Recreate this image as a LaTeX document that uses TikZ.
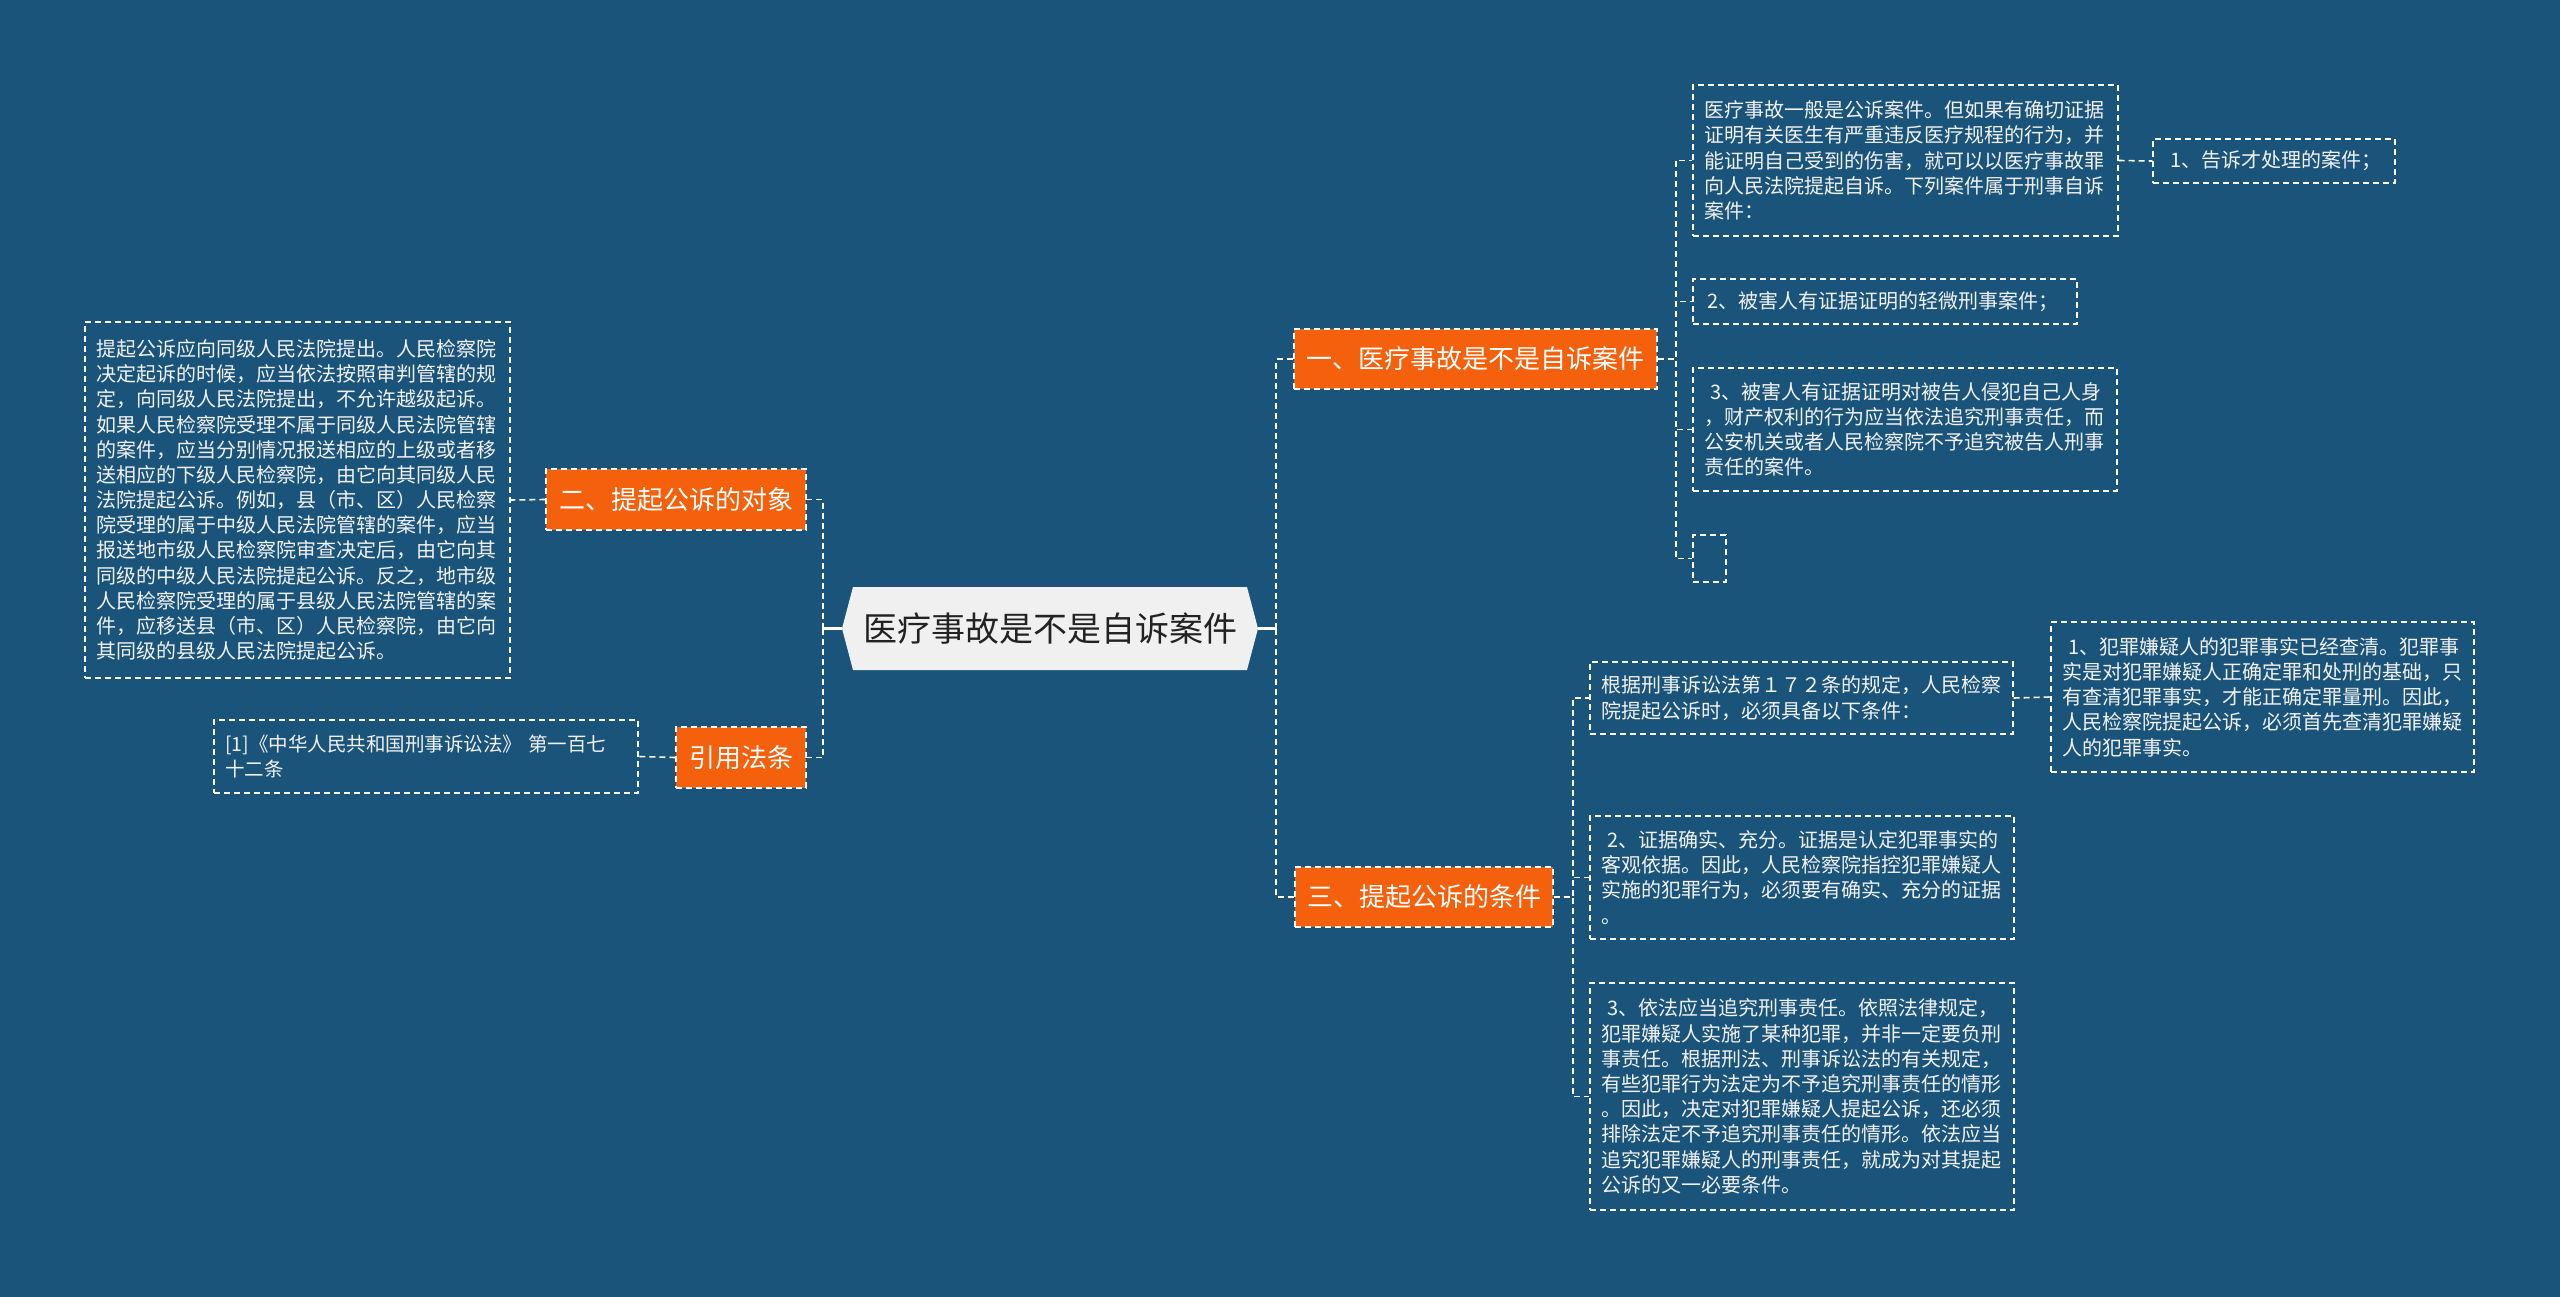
\documentclass[tikz,border=0pt]{standalone}
\usepackage{fontspec}
\setmainfont{Noto Sans CJK SC}
\definecolor{bgC}{RGB}{26,84,122}
\definecolor{orangeC}{RGB}{244,96,12}
\definecolor{hexC}{RGB}{240,240,240}
\definecolor{txtC}{RGB}{242,242,242}
\definecolor{darkC}{RGB}{34,34,34}
\begin{document}
\begin{tikzpicture}[x=1pt,y=-1pt,
  conn/.style={draw=white, line width=1.6pt, dash pattern=on 6pt off 4pt},
  solidconn/.style={draw=white, line width=2.2pt},
  tbox/.style={draw=white, line width=1.4pt, dash pattern=on 6pt off 4pt, text=txtC,
    align=left, inner xsep=11pt, inner ysep=0pt, font=\fontsize{20}{25.2}\selectfont},
  obox/.style={fill=orangeC, draw=white, line width=1.4pt, dash pattern=on 6pt off 4pt,
    text=white, inner sep=0pt, font=\fontsize{26}{30}\selectfont},
]
\fill[bgC] (0,0) rectangle (2560,1297);
\useasboundingbox (0,0) rectangle (2560,1297);

% central hexagon
\fill[hexC] (842,628.5) -- (853,587) -- (1247,587) -- (1258,628.5) -- (1247,670) -- (853,670) -- cycle;
\node[minimum width=416pt, minimum height=83pt, inner sep=0pt, text=darkC,
  font=\fontsize{34}{38}\selectfont] (c) at (1050,628.5) {医疗事故是不是自诉案件};

% left side
\node[obox, minimum width=260pt, minimum height=61pt] (n2) at (676,499.5) {二、提起公诉的对象};
\node[obox, minimum width=130pt, minimum height=61pt] (nref) at (741,757.5) {引用法条};

\node[tbox, text width=403pt, minimum height=356pt] (big) at (297.5,500) {提起公诉应向同级人民法院提出。人民检察院\\决定起诉的时候，应当依法按照审判管辖的规\\定，向同级人民法院提出，不允许越级起诉。\\如果人民检察院受理不属于同级人民法院管辖\\的案件，应当分别情况报送相应的上级或者移\\送相应的下级人民检察院，由它向其同级人民\\法院提起公诉。例如，县（市、区）人民检察\\院受理的属于中级人民法院管辖的案件，应当\\报送地市级人民检察院审查决定后，由它向其\\同级的中级人民法院提起公诉。反之，地市级\\人民检察院受理的属于县级人民法院管辖的案\\件，应移送县（市、区）人民检察院，由它向\\其同级的县级人民法院提起公诉。};

\node[tbox, text width=402pt, minimum height=73pt, font=\fontsize{19.5}{24.5}\selectfont] (ref) at (426,756.5) {[1]《中华人民共和国刑事诉讼法》 第一百七\\十二条};

% right first level
\node[obox, minimum width=363pt, minimum height=60pt] (n1) at (1475.5,359) {一、医疗事故是不是自诉案件};
\node[obox, minimum width=258pt, minimum height=60pt] (n3) at (1424,897) {三、提起公诉的条件};

% children of n1
\node[tbox, text width=403pt, minimum height=151pt] (A) at (1905.5,160.5) {医疗事故一般是公诉案件。但如果有确切证据\\证明有关医生有严重违反医疗规程的行为，并\\能证明自己受到的伤害，就可以以医疗事故罪\\向人民法院提起自诉。下列案件属于刑事自诉\\案件：};
\node[tbox, text width=220pt, minimum height=44pt] (B) at (2274,161) {\hspace*{0.3em}1、告诉才处理的案件；};
\node[tbox, text width=368pt, inner xsep=8pt, minimum height=45pt] (C) at (1885,301.5) {\hspace*{0.3em}2、被害人有证据证明的轻微刑事案件；};
\node[tbox, text width=402pt, minimum height=123pt] (D) at (1905,429.5) {\hspace*{0.3em}3、被害人有证据证明对被告人侵犯自己人身\\，财产权利的行为应当依法追究刑事责任，而\\公安机关或者人民检察院不予追究被告人刑事\\责任的案件。};
\node[tbox, minimum width=33pt, minimum height=47pt, inner xsep=0pt] (E) at (1709.5,558.5) {};

% children of n3
\node[tbox, text width=401pt, minimum height=72pt] (F) at (1801.5,698) {根据刑事诉讼法第１７２条的规定，人民检察\\院提起公诉时，必须具备以下条件：};
\node[tbox, text width=401pt, minimum height=150pt] (G) at (2262.5,697) {\hspace*{0.3em}1、犯罪嫌疑人的犯罪事实已经查清。犯罪事\\实是对犯罪嫌疑人正确定罪和处刑的基础，只\\有查清犯罪事实，才能正确定罪量刑。因此，\\人民检察院提起公诉，必须首先查清犯罪嫌疑\\人的犯罪事实。};
\node[tbox, text width=402pt, minimum height=123pt] (H) at (1802,877.5) {\hspace*{0.3em}2、证据确实、充分。证据是认定犯罪事实的\\客观依据。因此，人民检察院指控犯罪嫌疑人\\实施的犯罪行为，必须要有确实、充分的证据\\。};
\node[tbox, text width=402pt, minimum height=227pt] (I) at (1802,1096.5) {\hspace*{0.3em}3、依法应当追究刑事责任。依照法律规定，\\犯罪嫌疑人实施了某种犯罪，并非一定要负刑\\事责任。根据刑法、刑事诉讼法的有关规定，\\有些犯罪行为法定为不予追究刑事责任的情形\\。因此，决定对犯罪嫌疑人提起公诉，还必须\\排除法定不予追究刑事责任的情形。依法应当\\追究犯罪嫌疑人的刑事责任，就成为对其提起\\公诉的又一必要条件。};

% connectors: centre
\coordinate (cl) at (823,628.5);
\coordinate (cr) at (1276,628.5);
\draw[solidconn] (c.west) -- (cl);
\draw[solidconn] (c.east) -- (cr);
\draw[conn] (cl) |- (n2.east);
\draw[conn] (cl) |- (nref.east);
\draw[conn] (cr) |- (n1.west);
\draw[conn] (cr) |- (n3.west);

% left leaves
\draw[conn] (n2.west) -- (big.east);
\draw[conn] (nref.west) -- (ref.east);

% n1 leaves
\draw[conn] (n1.east) -- ++(18,0) |- (A.west);
\draw[conn] (n1.east) -- ++(18,0) |- (C.west);
\draw[conn] (n1.east) -- ++(18,0) |- (D.west);
\draw[conn] (n1.east) -- ++(18,0) |- (E.west);
\draw[conn] (A.east) -- (B.west);

% n3 leaves
\draw[conn] (n3.east) -- ++(19,0) |- (F.west);
\draw[conn] (n3.east) -- ++(19,0) |- (H.west);
\draw[conn] (n3.east) -- ++(19,0) |- (I.west);
\draw[conn] (F.east) -- (G.west);
\end{tikzpicture}
\end{document}
